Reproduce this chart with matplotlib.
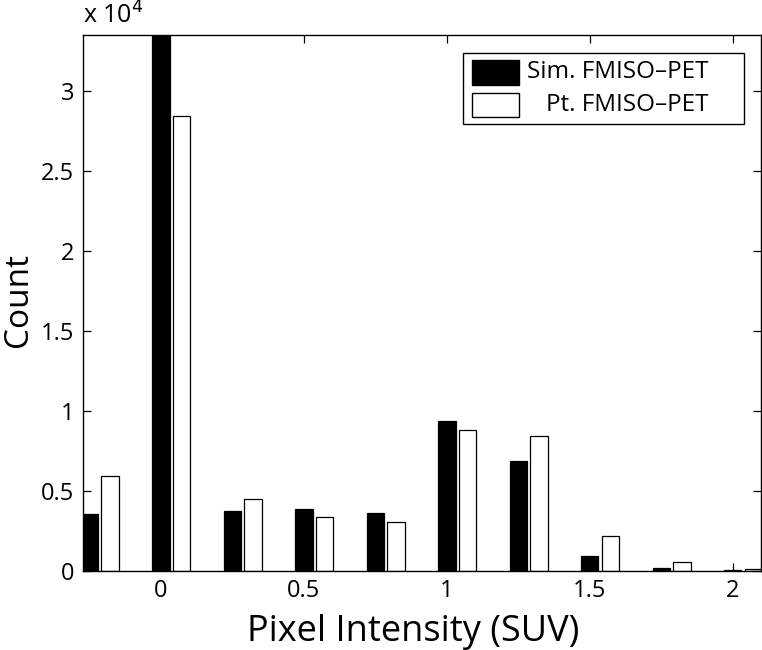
import matplotlib
matplotlib.use("Agg")
from matplotlib import pyplot as plt
from matplotlib.patches import Rectangle
import numpy as np

plt.rcParams['font.family'] = ['Open Sans', 'DejaVu Sans']

# bin centers (SUV) and counts
bins = [-0.25, 0.0, 0.25, 0.5, 0.75, 1.0, 1.25, 1.5, 1.75, 2.0]
sim_counts = [3540, 34500, 3730, 3860, 3600, 9375, 6860, 960, 200, 40]
pt_counts = [5920, 28460, 4480, 3375, 3080, 8810, 8420, 2210, 580, 110]
labels = ['Sim. FMISO\u2013PET', 'Pt. FMISO\u2013PET']

xticks = [0, 0.5, 1, 1.5, 2]
yticks = [0, 5000, 10000, 15000, 20000, 25000, 30000]

fig = plt.figure(figsize=(7.62, 6.5), dpi=100)
ax = fig.add_axes([0.1085, 0.1215, 0.8898, 0.8245])

x = np.array(bins)
w = 0.061
ax.bar(x, sim_counts, width=w, color='black', edgecolor='black', linewidth=0.9)
ax.bar(x + 0.072, pt_counts, width=w, color='white', edgecolor='black', linewidth=0.9)

ax.set_xlim(-0.274, 2.098)
ax.set_ylim(0, 33500)
ax.set_xticks(xticks)
ax.set_xticklabels(['%g' % t for t in xticks])
ax.set_yticks(yticks)
ax.set_yticklabels(['%g' % (t / 1e4) for t in yticks])
ax.tick_params(direction='in', length=6, width=0.9, top=True, right=True,
               labelsize=17, pad=6)
for s in ax.spines.values():
    s.set_linewidth(1.0)

ax.text(0.0, 1.01, r'x 10$^4$', transform=ax.transAxes, fontsize=18,
        ha='left', va='bottom')

ax.set_xlabel('Pixel Intensity (SUV)', fontsize=26)
ax.set_ylabel('Count', fontsize=24)
ax.xaxis.set_label_coords(0.487, -0.081)
ax.yaxis.set_label_coords(-0.071, 0.505)

# legend drawn by hand so the labels line up on the right like MATLAB
ax.add_patch(Rectangle((0.5605, 0.834), 0.4149, 0.1319, transform=ax.transAxes,
                       facecolor='white', edgecolor='black', linewidth=1.0, zorder=5))
ax.add_patch(Rectangle((0.5737, 0.9067), 0.0698, 0.0467, transform=ax.transAxes,
                       facecolor='black', edgecolor='black', linewidth=1.0, zorder=6))
ax.add_patch(Rectangle((0.5737, 0.8476), 0.0698, 0.0448, transform=ax.transAxes,
                       facecolor='white', edgecolor='black', linewidth=1.0, zorder=6))
ax.text(0.9223, 0.9305, labels[0], transform=ax.transAxes, fontsize=17.5,
        ha='right', va='center', zorder=7)
ax.text(0.9223, 0.8700, labels[1], transform=ax.transAxes, fontsize=17.5,
        ha='right', va='center', zorder=7)

fig.savefig('out.png', dpi=100)
